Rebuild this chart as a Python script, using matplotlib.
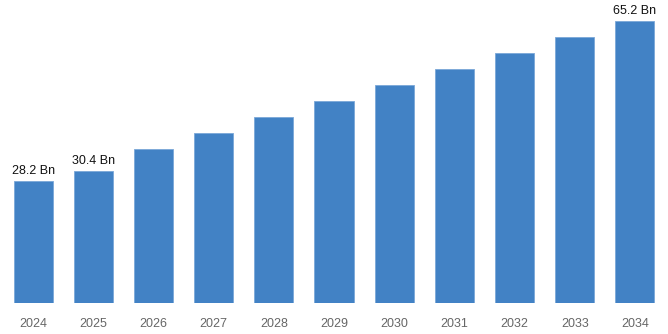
import matplotlib
matplotlib.use("Agg")
import matplotlib.pyplot as plt

plt.rcParams['font.family'] = ['Liberation Sans', 'DejaVu Sans']

years = ['2024', '2025', '2026', '2027', '2028', '2029', '2030', '2031', '2032', '2033', '2034']
market_size = [28.2, 30.4, 35.5, 39.3, 42.9, 46.7, 50.3, 54.0, 57.8, 61.5, 65.2]
labelled = {'2024': '28.2 Bn', '2025': '30.4 Bn', '2034': '65.2 Bn'}

fig = plt.figure(figsize=(6.68, 3.34), dpi=100)
ax = fig.add_axes([3 / 668, 31 / 334, 662 / 668, 303 / 334])

x = range(len(years))
bars = ax.bar(x, market_size, width=0.65, color='#4282c5', edgecolor='#7aa7d8', linewidth=0.6)

for rect, year in zip(bars, years):
    if year in labelled:
        ax.annotate(labelled[year], (rect.get_x() + rect.get_width() / 2, rect.get_height()),
                    xytext=(0, 3), textcoords='offset points', ha='center', va='bottom',
                    fontsize=9, color='#111111')

ax.set_xlim(-0.5, len(years) - 0.5)
ax.set_ylim(0, 70)
ax.set_xticks(list(x))
ax.set_xticklabels(years, fontsize=9, color='#666666')
ax.tick_params(axis='x', length=0, pad=11)
ax.set_yticks([])
for side in ax.spines.values():
    side.set_visible(False)

fig.savefig('out.png', dpi=100)
